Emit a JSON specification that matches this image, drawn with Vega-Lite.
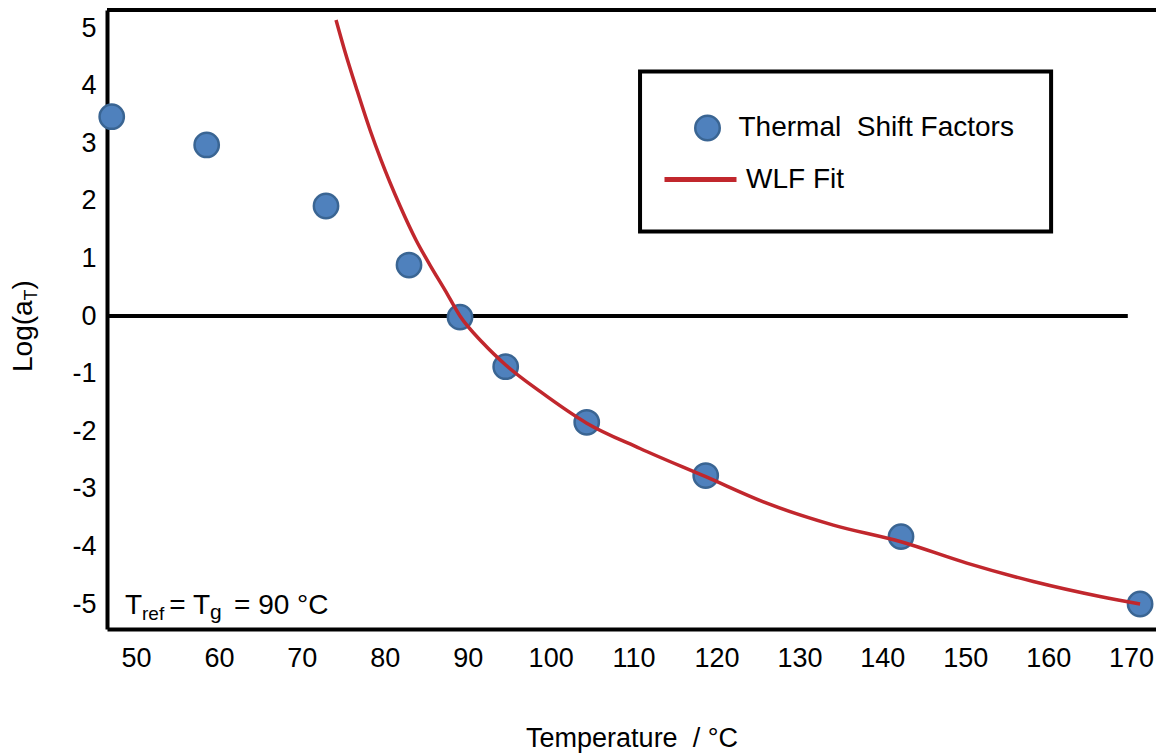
{
  "$schema": "https://vega.github.io/schema/vega-lite/v6.json",
  "width": 1049,
  "height": 619,
  "autosize": {"type": "none"},
  "padding": {"left": 107, "top": 10, "right": 0, "bottom": 126},
  "background": "white",
  "config": {
    "font": "Liberation Sans",
    "view": {"stroke": null},
    "text": {"font": "Liberation Sans", "color": "black"},
    "axis": {
      "labelFont": "Liberation Sans", "titleFont": "Liberation Sans",
      "labelFontSize": 27, "titleFontSize": 27, "titleFontWeight": "normal",
      "labelColor": "black", "titleColor": "black",
      "domainColor": "black", "domainWidth": 4,
      "ticks": false, "tickSize": 0, "grid": false,
      "labelFlush": false, "labelOverlap": false
    },
    "axisX": {"labelPadding": 16, "titlePadding": 54},
    "axisY": {"labelPadding": 11}
  },
  "datasets": {
    "points": [
      {"T": 47.07, "logaT": 3.46, "series": "Thermal\u00a0 Shift Factors"},
      {"T": 58.52, "logaT": 2.97, "series": "Thermal\u00a0 Shift Factors"},
      {"T": 72.91, "logaT": 1.91, "series": "Thermal\u00a0 Shift Factors"},
      {"T": 82.92, "logaT": 0.885, "series": "Thermal\u00a0 Shift Factors"},
      {"T": 89.07, "logaT": -0.02, "series": "Thermal\u00a0 Shift Factors"},
      {"T": 94.58, "logaT": -0.88, "series": "Thermal\u00a0 Shift Factors"},
      {"T": 104.35, "logaT": -1.845, "series": "Thermal\u00a0 Shift Factors"},
      {"T": 118.7, "logaT": -2.77, "series": "Thermal\u00a0 Shift Factors"},
      {"T": 142.25, "logaT": -3.83, "series": "Thermal\u00a0 Shift Factors"},
      {"T": 171.08, "logaT": -5.0, "series": "Thermal\u00a0 Shift Factors"}
    ],
    "curve": [
      {"T": 74.12, "logaT": 5.14, "series": "WLF Fit"},
      {"T": 75.14, "logaT": 4.62, "series": "WLF Fit"},
      {"T": 76.65, "logaT": 3.92, "series": "WLF Fit"},
      {"T": 78.22, "logaT": 3.23, "series": "WLF Fit"},
      {"T": 79.54, "logaT": 2.71, "series": "WLF Fit"},
      {"T": 81.84, "logaT": 1.91, "series": "WLF Fit"},
      {"T": 83.76, "logaT": 1.32, "series": "WLF Fit"},
      {"T": 85.45, "logaT": 0.885, "series": "WLF Fit"},
      {"T": 87.26, "logaT": 0.45, "series": "WLF Fit"},
      {"T": 89.07, "logaT": 0.0, "series": "WLF Fit"},
      {"T": 91.84, "logaT": -0.469, "series": "WLF Fit"},
      {"T": 94.58, "logaT": -0.85, "series": "WLF Fit"},
      {"T": 98.72, "logaT": -1.31, "series": "WLF Fit"},
      {"T": 104.35, "logaT": -1.86, "series": "WLF Fit"},
      {"T": 110.78, "logaT": -2.3, "series": "WLF Fit"},
      {"T": 118.7, "logaT": -2.79, "series": "WLF Fit"},
      {"T": 126.06, "logaT": -3.25, "series": "WLF Fit"},
      {"T": 134.09, "logaT": -3.63, "series": "WLF Fit"},
      {"T": 142.25, "logaT": -3.92, "series": "WLF Fit"},
      {"T": 150.18, "logaT": -4.29, "series": "WLF Fit"},
      {"T": 158.21, "logaT": -4.61, "series": "WLF Fit"},
      {"T": 166.25, "logaT": -4.87, "series": "WLF Fit"},
      {"T": 171.08, "logaT": -5.0, "series": "WLF Fit"}
    ]
  },
  "layer": [
    {
      "data": {"values": [{}]},
      "mark": {"type": "rect", "fill": "white", "stroke": "black", "strokeWidth": 4},
      "encoding": {
        "x": {"datum": 110.78, "type": "quantitative", "scale": {"domain": [46.5, 173], "nice": false, "zero": false}, "axis": {"values": [50, 60, 70, 80, 90, 100, 110, 120, 130, 140, 150, 160, 170], "title": "Temperature\u00a0 / °C"}},
        "x2": {"datum": 160.35},
        "y": {"datum": 4.245, "type": "quantitative", "scale": {"domain": [-5.434, 5.3125], "nice": false, "zero": false}, "axis": {"values": [-5, -4, -3, -2, -1, 0, 1, 2, 3, 4, 5], "title": null, "labelExpr": "datum.value < 0 ? '-' + abs(datum.value) : '' + datum.value"}},
        "y2": {"datum": 1.467}
      }
    },
    {
      "data": {"values": [{}]},
      "mark": {"type": "rule", "color": "black", "strokeWidth": 4},
      "encoding": {
        "x": {"datum": 46.5, "type": "quantitative", "scale": {"domain": [46.5, 173], "nice": false, "zero": false}, "axis": {"values": [50, 60, 70, 80, 90, 100, 110, 120, 130, 140, 150, 160, 170], "title": "Temperature\u00a0 / °C"}},
        "x2": {"datum": 169.6},
        "y": {"datum": 0, "type": "quantitative", "scale": {"domain": [-5.434, 5.3125], "nice": false, "zero": false}, "axis": {"values": [-5, -4, -3, -2, -1, 0, 1, 2, 3, 4, 5], "title": null, "labelExpr": "datum.value < 0 ? '-' + abs(datum.value) : '' + datum.value"}}
      }
    },
    {
      "data": {"values": [{}]},
      "mark": {"type": "rule", "color": "black", "strokeWidth": 4},
      "encoding": {
        "x": {"datum": 46.5, "type": "quantitative", "scale": {"domain": [46.5, 173], "nice": false, "zero": false}, "axis": {"values": [50, 60, 70, 80, 90, 100, 110, 120, 130, 140, 150, 160, 170], "title": "Temperature\u00a0 / °C"}},
        "x2": {"datum": 173},
        "y": {"datum": 5.3125, "type": "quantitative", "scale": {"domain": [-5.434, 5.3125], "nice": false, "zero": false}, "axis": {"values": [-5, -4, -3, -2, -1, 0, 1, 2, 3, 4, 5], "title": null, "labelExpr": "datum.value < 0 ? '-' + abs(datum.value) : '' + datum.value"}}
      }
    },
    {
      "data": {"name": "points"},
      "mark": {"type": "point", "filled": true, "opacity": 1, "size": 590, "stroke": "#3A6593", "strokeWidth": 2.5, "shape": "circle"},
      "encoding": {
        "x": {"field": "T", "type": "quantitative", "scale": {"domain": [46.5, 173], "nice": false, "zero": false}, "axis": {"values": [50, 60, 70, 80, 90, 100, 110, 120, 130, 140, 150, 160, 170], "title": "Temperature\u00a0 / °C"}},
        "y": {"field": "logaT", "type": "quantitative", "scale": {"domain": [-5.434, 5.3125], "nice": false, "zero": false}, "axis": {"values": [-5, -4, -3, -2, -1, 0, 1, 2, 3, 4, 5], "title": null, "labelExpr": "datum.value < 0 ? '-' + abs(datum.value) : '' + datum.value"}},
        "fill": {
          "field": "series", "type": "nominal",
          "scale": {"range": ["#4F81BD"]},
          "legend": {
            "orient": "none", "legendX": 586.5, "legendY": 104,
            "title": null, "padding": 0,
            "symbolType": "circle", "symbolSize": 600,
            "symbolStrokeColor": "#3A6593", "symbolStrokeWidth": 2.5, "symbolFillColor": "#4F81BD",
            "labelFont": "Liberation Sans", "labelFontSize": 28, "labelColor": "black",
            "labelOffset": 17, "labelLimit": 500
          }
        }
      }
    },
    {
      "data": {"name": "curve"},
      "mark": {"type": "line", "strokeWidth": 3.5, "interpolate": "monotone"},
      "encoding": {
        "x": {"field": "T", "type": "quantitative", "scale": {"domain": [46.5, 173], "nice": false, "zero": false}, "axis": {"values": [50, 60, 70, 80, 90, 100, 110, 120, 130, 140, 150, 160, 170], "title": "Temperature\u00a0 / °C"}},
        "y": {"field": "logaT", "type": "quantitative", "scale": {"domain": [-5.434, 5.3125], "nice": false, "zero": false}, "axis": {"values": [-5, -4, -3, -2, -1, 0, 1, 2, 3, 4, 5], "title": null, "labelExpr": "datum.value < 0 ? '-' + abs(datum.value) : '' + datum.value"}},
        "stroke": {
          "field": "series", "type": "nominal",
          "scale": {"range": ["#C1272D"]},
          "legend": {
            "orient": "none", "legendX": 555, "legendY": 131,
            "title": null, "padding": 0,
            "symbolType": "stroke", "symbolSize": 5184, "symbolStrokeWidth": 5,
            "labelFont": "Liberation Sans", "labelFontSize": 28, "labelColor": "black",
            "labelOffset": 7, "labelLimit": 500
          }
        }
      }
    },
    {
      "data": {"values": [{}]},
      "mark": {"type": "text", "text": "Log(a", "angle": 270, "align": "left", "baseline": "alphabetic", "fontSize": 28},
      "encoding": {
        "x": {"datum": 37.455, "type": "quantitative", "scale": {"domain": [46.5, 173], "nice": false, "zero": false}, "axis": {"values": [50, 60, 70, 80, 90, 100, 110, 120, 130, 140, 150, 160, 170], "title": "Temperature\u00a0 / °C"}},
        "y": {"datum": -0.972, "type": "quantitative", "scale": {"domain": [-5.434, 5.3125], "nice": false, "zero": false}, "axis": {"values": [-5, -4, -3, -2, -1, 0, 1, 2, 3, 4, 5], "title": null, "labelExpr": "datum.value < 0 ? '-' + abs(datum.value) : '' + datum.value"}}
      }
    },
    {
      "data": {"values": [{}]},
      "mark": {"type": "text", "text": "T", "angle": 270, "align": "left", "baseline": "alphabetic", "fontSize": 18},
      "encoding": {
        "x": {"datum": 38.058, "type": "quantitative", "scale": {"domain": [46.5, 173], "nice": false, "zero": false}, "axis": {"values": [50, 60, 70, 80, 90, 100, 110, 120, 130, 140, 150, 160, 170], "title": "Temperature\u00a0 / °C"}},
        "y": {"datum": 0.271, "type": "quantitative", "scale": {"domain": [-5.434, 5.3125], "nice": false, "zero": false}, "axis": {"values": [-5, -4, -3, -2, -1, 0, 1, 2, 3, 4, 5], "title": null, "labelExpr": "datum.value < 0 ? '-' + abs(datum.value) : '' + datum.value"}}
      }
    },
    {
      "data": {"values": [{}]},
      "mark": {"type": "text", "text": ")", "angle": 270, "align": "left", "baseline": "alphabetic", "fontSize": 28},
      "encoding": {
        "x": {"datum": 37.455, "type": "quantitative", "scale": {"domain": [46.5, 173], "nice": false, "zero": false}, "axis": {"values": [50, 60, 70, 80, 90, 100, 110, 120, 130, 140, 150, 160, 170], "title": "Temperature\u00a0 / °C"}},
        "y": {"datum": 0.462, "type": "quantitative", "scale": {"domain": [-5.434, 5.3125], "nice": false, "zero": false}, "axis": {"values": [-5, -4, -3, -2, -1, 0, 1, 2, 3, 4, 5], "title": null, "labelExpr": "datum.value < 0 ? '-' + abs(datum.value) : '' + datum.value"}}
      }
    },
    {
      "data": {"values": [{}]},
      "mark": {"type": "text", "text": "T", "align": "left", "baseline": "alphabetic", "fontSize": 28},
      "encoding": {
        "x": {"datum": 48.671, "type": "quantitative", "scale": {"domain": [46.5, 173], "nice": false, "zero": false}, "axis": {"values": [50, 60, 70, 80, 90, 100, 110, 120, 130, 140, 150, 160, 170], "title": "Temperature\u00a0 / °C"}},
        "y": {"datum": -5.174, "type": "quantitative", "scale": {"domain": [-5.434, 5.3125], "nice": false, "zero": false}, "axis": {"values": [-5, -4, -3, -2, -1, 0, 1, 2, 3, 4, 5], "title": null, "labelExpr": "datum.value < 0 ? '-' + abs(datum.value) : '' + datum.value"}}
      }
    },
    {
      "data": {"values": [{}]},
      "mark": {"type": "text", "text": "ref", "align": "left", "baseline": "alphabetic", "fontSize": 19},
      "encoding": {
        "x": {"datum": 50.721, "type": "quantitative", "scale": {"domain": [46.5, 173], "nice": false, "zero": false}, "axis": {"values": [50, 60, 70, 80, 90, 100, 110, 120, 130, 140, 150, 160, 170], "title": "Temperature\u00a0 / °C"}},
        "y": {"datum": -5.278, "type": "quantitative", "scale": {"domain": [-5.434, 5.3125], "nice": false, "zero": false}, "axis": {"values": [-5, -4, -3, -2, -1, 0, 1, 2, 3, 4, 5], "title": null, "labelExpr": "datum.value < 0 ? '-' + abs(datum.value) : '' + datum.value"}}
      }
    },
    {
      "data": {"values": [{}]},
      "mark": {"type": "text", "text": "=", "align": "left", "baseline": "alphabetic", "fontSize": 28},
      "encoding": {
        "x": {"datum": 54.0, "type": "quantitative", "scale": {"domain": [46.5, 173], "nice": false, "zero": false}, "axis": {"values": [50, 60, 70, 80, 90, 100, 110, 120, 130, 140, 150, 160, 170], "title": "Temperature\u00a0 / °C"}},
        "y": {"datum": -5.174, "type": "quantitative", "scale": {"domain": [-5.434, 5.3125], "nice": false, "zero": false}, "axis": {"values": [-5, -4, -3, -2, -1, 0, 1, 2, 3, 4, 5], "title": null, "labelExpr": "datum.value < 0 ? '-' + abs(datum.value) : '' + datum.value"}}
      }
    },
    {
      "data": {"values": [{}]},
      "mark": {"type": "text", "text": "T", "align": "left", "baseline": "alphabetic", "fontSize": 28},
      "encoding": {
        "x": {"datum": 56.87, "type": "quantitative", "scale": {"domain": [46.5, 173], "nice": false, "zero": false}, "axis": {"values": [50, 60, 70, 80, 90, 100, 110, 120, 130, 140, 150, 160, 170], "title": "Temperature\u00a0 / °C"}},
        "y": {"datum": -5.174, "type": "quantitative", "scale": {"domain": [-5.434, 5.3125], "nice": false, "zero": false}, "axis": {"values": [-5, -4, -3, -2, -1, 0, 1, 2, 3, 4, 5], "title": null, "labelExpr": "datum.value < 0 ? '-' + abs(datum.value) : '' + datum.value"}}
      }
    },
    {
      "data": {"values": [{}]},
      "mark": {"type": "text", "text": "g", "align": "left", "baseline": "alphabetic", "fontSize": 21},
      "encoding": {
        "x": {"datum": 58.92, "type": "quantitative", "scale": {"domain": [46.5, 173], "nice": false, "zero": false}, "axis": {"values": [50, 60, 70, 80, 90, 100, 110, 120, 130, 140, 150, 160, 170], "title": "Temperature\u00a0 / °C"}},
        "y": {"datum": -5.26, "type": "quantitative", "scale": {"domain": [-5.434, 5.3125], "nice": false, "zero": false}, "axis": {"values": [-5, -4, -3, -2, -1, 0, 1, 2, 3, 4, 5], "title": null, "labelExpr": "datum.value < 0 ? '-' + abs(datum.value) : '' + datum.value"}}
      }
    },
    {
      "data": {"values": [{}]},
      "mark": {"type": "text", "text": "= 90 °C", "align": "left", "baseline": "alphabetic", "fontSize": 28},
      "encoding": {
        "x": {"datum": 61.82, "type": "quantitative", "scale": {"domain": [46.5, 173], "nice": false, "zero": false}, "axis": {"values": [50, 60, 70, 80, 90, 100, 110, 120, 130, 140, 150, 160, 170], "title": "Temperature\u00a0 / °C"}},
        "y": {"datum": -5.174, "type": "quantitative", "scale": {"domain": [-5.434, 5.3125], "nice": false, "zero": false}, "axis": {"values": [-5, -4, -3, -2, -1, 0, 1, 2, 3, 4, 5], "title": null, "labelExpr": "datum.value < 0 ? '-' + abs(datum.value) : '' + datum.value"}}
      }
    }
  ]
}
